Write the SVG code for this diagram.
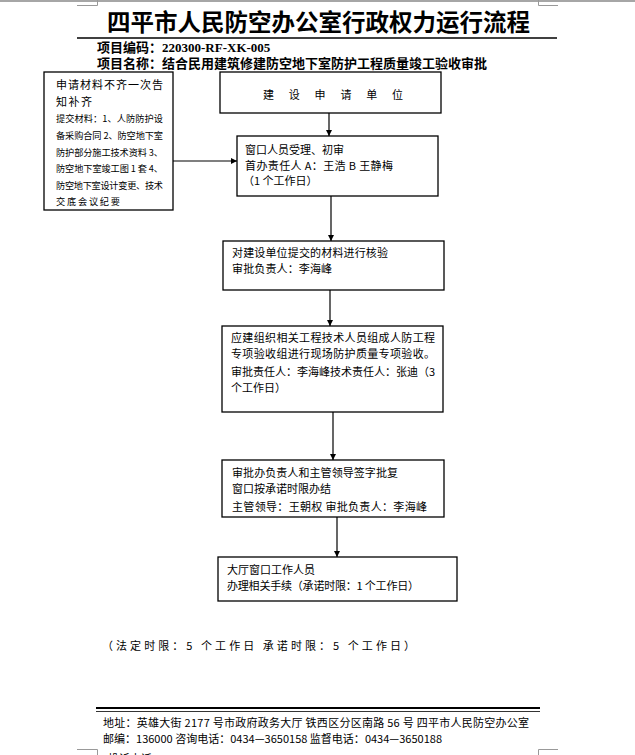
<svg xmlns="http://www.w3.org/2000/svg" width="635" height="755" viewBox="0 0 635 755">
<defs>
<style>
.t{font-family:"Noto Sans CJK SC","Noto Sans",sans-serif;font-size:11px;fill:#000}
.s{font-size:9.2px}
.box{fill:#fff;stroke:#000;stroke-width:1.3}
.cn{stroke:#000;stroke-width:1.2;fill:none}
.mark{stroke:#999;stroke-width:1;fill:none}
.hd{font-family:"Liberation Serif","Noto Sans CJK SC",serif;font-size:13px;font-weight:bold;fill:#000}
</style>
<marker id="ah" viewBox="0 0 10 10" refX="10" refY="5" markerWidth="6" markerHeight="6" orient="auto" markerUnits="userSpaceOnUse">
<path d="M0,0 L10,5 L0,10 z" fill="#000"/>
</marker>
</defs>
<rect x="0" y="0" width="635" height="755" fill="#fff"/>
<!-- page marks -->
<line x1="0" y1="1" x2="635" y2="1" stroke="#888" stroke-width="1.5"/>
<path class="mark" d="M77,5.5 H97.5 V0 M558,5.5 H538.5 V0"/>
<path class="mark" d="M77,749.5 H97.5 V755 M558,749.5 H538.5 V755"/>
<!-- header -->
<g id="header">
<text x="318.5" y="31" text-anchor="middle" font-family="'Noto Sans CJK SC',sans-serif" font-size="23.5" font-weight="bold" textLength="423" lengthAdjust="spacingAndGlyphs">四平市人民防空办公室行政权力运行流程</text>
<line x1="77" y1="38" x2="557" y2="38" stroke="#000" stroke-width="1.5"/>
<text class="hd" x="97" y="51.5">项目编码：220300-RF-XK-005</text>
<text class="hd" x="97" y="67.5" textLength="390">项目名称：结合民用建筑修建防空地下室防护工程质量竣工验收审批</text>
</g>
<!-- connectors -->
<g id="connectors">
<line class="cn" x1="173" y1="161" x2="237" y2="161" marker-end="url(#ah)"/>
<line class="cn" x1="329" y1="113" x2="329" y2="136" marker-end="url(#ah)"/>
<line class="cn" x1="331" y1="196" x2="331" y2="241" marker-end="url(#ah)"/>
<line class="cn" x1="330" y1="290" x2="330" y2="326" marker-end="url(#ah)"/>
<line class="cn" x1="333" y1="412" x2="333" y2="460" marker-end="url(#ah)"/>
<line class="cn" x1="337" y1="517" x2="337" y2="557" marker-end="url(#ah)"/>
</g>
<!-- nodes -->
<g id="n-left">
<rect class="box" x="44" y="72" width="129" height="138"/>
<text class="t" x="56" y="89" font-size="12" textLength="107">申请材料不齐一次告</text>
<text class="t" x="56" y="106" font-size="12" textLength="36">知补齐</text>
<text class="t s" x="56" y="122" textLength="107">提交材料：1、人防防护设</text>
<text class="t s" x="56" y="139" textLength="107">备采购合同 2、防空地下室</text>
<text class="t s" x="56" y="156" textLength="107">防护部分施工技术资料 3、</text>
<text class="t s" x="56" y="172" textLength="107">防空地下室竣工图 1 套 4、</text>
<text class="t s" x="56" y="189" textLength="107">防空地下室设计变更、技术</text>
<text class="t s" x="56" y="205" textLength="64">交底会议纪要</text>
</g>
<g id="n1">
<rect class="box" x="220" y="72" width="221" height="41"/>
<text class="t" x="263" y="98.5" font-size="15" textLength="140" lengthAdjust="spacing">建设申请单位</text>
</g>
<g id="n2">
<rect class="box" x="237" y="136" width="201" height="60"/>
<text class="t" x="245" y="154">窗口人员受理、初审</text>
<text class="t" x="245" y="170" textLength="148">首办责任人 A：王浩  B 王静梅</text>
<text class="t" x="243" y="185">（1 个工作日）</text>
</g>
<g id="n3">
<rect class="box" x="223" y="241" width="221" height="49"/>
<text class="t" x="232" y="257" textLength="156">对建设单位提交的材料进行核验</text>
<text class="t" x="232" y="273" textLength="100">审批负责人：李海峰</text>
</g>
<g id="n4">
<rect class="box" x="222" y="326" width="221" height="86"/>
<text class="t" x="231" y="342" textLength="204">应建组织相关工程技术人员组成人防工程</text>
<text class="t" x="231" y="358" textLength="204">专项验收组进行现场防护质量专项验收。</text>
<text class="t" x="231" y="376" textLength="204">审批责任人：李海峰技术责任人：张迪（3</text>
<text class="t" x="231" y="392">个工作日）</text>
</g>
<g id="n5">
<rect class="box" x="222" y="460" width="222" height="57"/>
<text class="t" x="232" y="477" textLength="166">审批办负责人和主管领导签字批复</text>
<text class="t" x="232" y="493">窗口按承诺时限办结</text>
<text class="t" x="232" y="511" textLength="195">主管领导：王朝权  审批负责人：李海峰</text>
</g>
<g id="n6">
<rect class="box" x="218" y="557" width="239" height="44"/>
<text class="t" x="227" y="574">大厅窗口工作人员</text>
<text class="t" x="227" y="590" textLength="192">办理相关手续（承诺时限：1 个工作日）</text>
</g>
<!-- note -->
<text class="t" x="102" y="649.5" font-size="13" textLength="313" lengthAdjust="spacing">（法定时限：5 个工作日 承诺时限：5 个工作日）</text>
<!-- footer -->
<g id="footer">
<line x1="96" y1="708" x2="540" y2="708" stroke="#000" stroke-width="2"/>
<line x1="96" y1="711.5" x2="540" y2="711.5" stroke="#000" stroke-width="0.8"/>
<text class="t" x="103" y="726.5" font-size="12" textLength="426">地址：英雄大街 2177 号市政府政务大厅  铁西区分区南路 56 号    四平市人民防空办公室</text>
<text class="t" x="103" y="742.5" font-size="12" textLength="339">邮编：136000 咨询电话：0434—3650158    监督电话：0434—3650188</text>
<text class="t" x="108" y="763" font-size="12">投诉电话：0434—3650189</text>
</g>
</svg>
